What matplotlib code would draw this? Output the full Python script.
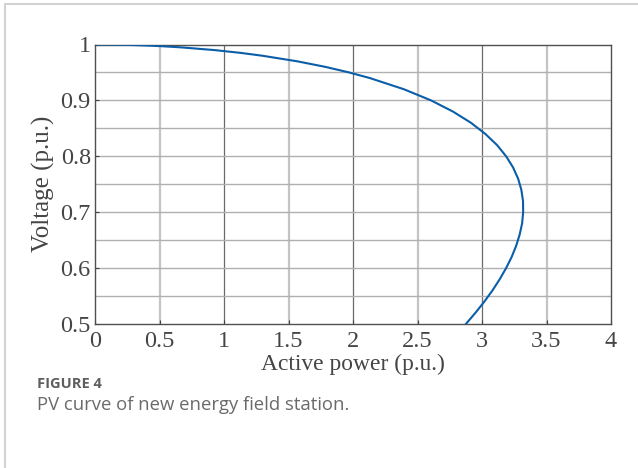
import matplotlib
matplotlib.use("Agg")
import matplotlib.pyplot as plt
from matplotlib.patches import Rectangle

# Data (voltage vs active power along the PV curve)
voltage = [1.0, 0.9999, 0.9995, 0.999, 0.998, 0.997, 0.995, 0.99, 0.985, 0.98,
           0.97, 0.96, 0.95, 0.94, 0.92, 0.90, 0.88, 0.86, 0.84, 0.82, 0.80,
           0.78, 0.76, 0.74, 0.72, 0.70, 0.68, 0.66, 0.64, 0.62, 0.60, 0.58,
           0.56, 0.54, 0.52, 0.50]
power = [0.0, 0.094, 0.210, 0.297, 0.419, 0.512, 0.660, 0.927, 1.129, 1.295,
         1.566, 1.785, 1.970, 2.130, 2.394, 2.605, 2.775, 2.914, 3.026, 3.117,
         3.187, 3.241, 3.280, 3.305, 3.318, 3.319, 3.311, 3.292, 3.265, 3.230,
         3.187, 3.137, 3.081, 3.018, 2.949, 2.875]

x_ticks = [0, 0.5, 1, 1.5, 2, 2.5, 3, 3.5, 4]
x_tick_labels = ["0", "0.5", "1", "1.5", "2", "2.5", "3", "3.5", "4"]
y_ticks = [0.5, 0.6, 0.7, 0.8, 0.9, 1.0]
y_tick_labels = ["0.5", "0.6", "0.7", "0.8", "0.9", "1"]
y_grid = [0.55, 0.6, 0.65, 0.7, 0.75, 0.8, 0.85, 0.9, 0.95]

fig = plt.figure(figsize=(6.38, 4.68), dpi=100)
W, H = 638, 468

# light frame around the figure
fig.patches.append(Rectangle((4.5 / W, -0.1), 1.2, (H - 4.5) / H + 0.1,
                             transform=fig.transFigure, fill=False,
                             edgecolor="#d3d3d3", linewidth=1.5))

ax = fig.add_axes([95 / W, 1 - 324 / H, (611 - 95) / W, (324 - 44.5) / H])
ax.set_xlim(0, 4)
ax.set_ylim(0.5, 1.0)

# grid
for xv in x_ticks[1:-1]:
    if float(xv).is_integer():
        ax.axvline(xv, color="#6a6a6a", lw=0.9, zorder=1)
    else:
        ax.axvline(xv, color="#c4c4c4", lw=1.6, zorder=1)
for yv in y_grid:
    ax.axhline(yv, color="#b0b0b0", lw=1.0, zorder=1)

ax.plot(power, voltage, color="#0a5ea8", lw=1.5, zorder=3)

serif = ["Liberation Serif", "DejaVu Serif"]
tc = "#454545"
ax.set_xticks(x_ticks)
ax.set_xticklabels(x_tick_labels, fontfamily=serif, fontsize=17.5, color=tc)
ax.set_yticks(y_ticks)
ax.set_yticklabels(y_tick_labels, fontfamily=serif, fontsize=17.5, color=tc)
ax.tick_params(axis="both", direction="in", length=3, width=0.8, color="#404040",
               top=False, right=False)
ax.tick_params(axis="x", pad=5)
ax.tick_params(axis="y", pad=3)
for s in ax.spines.values():
    s.set_color("#505050")
    s.set_linewidth(1.0)

ax.set_xlabel("Active power (p.u.)", fontfamily=serif, fontsize=16.9,
              color=tc, labelpad=1)
ax.set_ylabel("Voltage (p.u.)", fontfamily=serif, fontsize=18,
              color=tc, labelpad=4)

fig.text(37 / W, 1 - 384 / H, "FIGURE 4", fontfamily=["Open Sans", "DejaVu Sans"],
         fontsize=10.5, fontweight="bold", color="#5e5e5e", va="center", ha="left")
fig.text(37 / W, 1 - 405 / H, "PV curve of new energy field station.",
         fontfamily=["Open Sans", "DejaVu Sans"], fontsize=13.3, color="#6a6a6a",
         va="center", ha="left")

fig.savefig("out.png", dpi=100)
